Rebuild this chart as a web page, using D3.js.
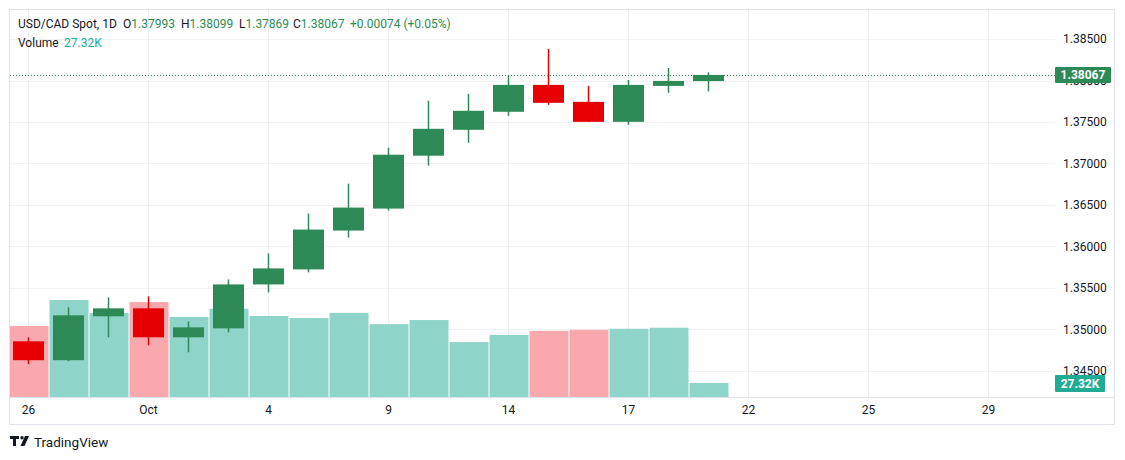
<!DOCTYPE html>
<html>
<head>
<meta charset="utf-8">
<script src="https://cdn.jsdelivr.net/npm/d3@7"></script>
<style>
  body { margin: 0; background: #fff; }
  svg text { font-family: Roboto, "Noto Sans", sans-serif; }
</style>
</head>
<body>
<div id="main"></div>
<script>
// daily bars, oldest first
const opens  = [1.34858, 1.34630, 1.35159, 1.35255, 1.34906, 1.35014, 1.35543, 1.35724, 1.36192, 1.36457, 1.37094, 1.37406, 1.37623, 1.37947, 1.37743, 1.37502, 1.37935, 1.37993];
const highs  = [1.34906, 1.35267, 1.35387, 1.35399, 1.35098, 1.35603, 1.35916, 1.36397, 1.36757, 1.37190, 1.37755, 1.37839, 1.38067, 1.38380, 1.37935, 1.38007, 1.38151, 1.38099];
const lows   = [1.34582, 1.34620, 1.34906, 1.34810, 1.34726, 1.34966, 1.35447, 1.35688, 1.36108, 1.36433, 1.36974, 1.37250, 1.37575, 1.37707, 1.37500, 1.37466, 1.37851, 1.37869];
const closes = [1.34630, 1.35171, 1.35255, 1.34906, 1.35026, 1.35543, 1.35736, 1.36204, 1.36469, 1.37106, 1.37418, 1.37635, 1.37947, 1.37731, 1.37502, 1.37947, 1.37995, 1.38067];
const volumes = [138.5, 189, 164, 185, 156, 172, 158, 154, 164, 142, 150, 107, 121, 129, 131, 133, 135, 27.32]; // thousands

const timeTickIdx = [0, 3, 6, 9, 12, 15, 18, 21, 24];
const timeTickLabels = ['26', 'Oct', '4', '9', '14', '17', '22', '25', '29'];
const priceTicks = [1.345, 1.350, 1.355, 1.360, 1.365, 1.370, 1.375, 1.380, 1.385];

const W = 1125, H = 460;
const plot = { left: 10, right: 1055, top: 10, bottom: 397 };
const green = '#2d8a56', red = '#e60000';

const bars = opens.map((o, i) => ({ i, o, h: highs[i], l: lows[i], c: closes[i], v: volumes[i] }));
const last = bars[bars.length - 1];

const x = d3.scaleLinear().domain([0, 24]).range([28.5, 988.5]);
const y = d3.scaleLinear().domain([1.345, 1.385]).range([371, 39]);
const yv = d3.scaleLinear().domain([0, 200]).range([plot.bottom, plot.bottom - 102.6]);
const step = x(1) - x(0);

const svg = d3.select('#main').append('svg').attr('width', W).attr('height', H);

svg.append('defs').append('clipPath').attr('id', 'clip')
  .append('rect').attr('x', plot.left).attr('y', plot.top)
  .attr('width', plot.right - plot.left).attr('height', plot.bottom - plot.top);

// frame
svg.append('rect').attr('x', 9.5).attr('y', 9.5).attr('width', 1105).attr('height', 415)
  .attr('fill', 'none').attr('stroke', '#e0e3eb');

// grid
const grid = svg.append('g').attr('clip-path', 'url(#clip)');
grid.selectAll('line.h').data(priceTicks).enter().append('line')
  .attr('x1', plot.left).attr('x2', plot.right)
  .attr('y1', d => Math.round(y(d)) + 0.5).attr('y2', d => Math.round(y(d)) + 0.5)
  .attr('stroke', '#f0f2f5');
grid.selectAll('line.v').data(timeTickIdx).enter().append('line')
  .attr('y1', plot.top).attr('y2', plot.bottom)
  .attr('x1', d => Math.floor(x(d)) + 0.5).attr('x2', d => Math.floor(x(d)) + 0.5)
  .attr('stroke', '#eceef2');

const chart = svg.append('g').attr('clip-path', 'url(#clip)');

// volume
chart.selectAll('rect.vol').data(bars).enter().append('rect')
  .attr('x', d => x(d.i) - step / 2 + 1)
  .attr('width', step - 1)
  .attr('y', d => yv(d.v))
  .attr('height', d => yv(0) - yv(d.v))
  .attr('fill', d => d.c < d.o ? '#f9a9ad' : '#8fd4c9');

// wicks
chart.selectAll('line.wick').data(bars).enter().append('line')
  .attr('x1', d => x(d.i)).attr('x2', d => x(d.i))
  .attr('y1', d => y(d.h)).attr('y2', d => y(d.l))
  .attr('stroke', d => d.c < d.o ? red : green)
  .attr('stroke-width', 1.5);

// bodies
chart.selectAll('rect.body').data(bars).enter().append('rect')
  .attr('x', d => x(d.i) - 15.5)
  .attr('width', 31)
  .attr('y', d => y(Math.max(d.o, d.c)))
  .attr('height', d => Math.max(1, Math.abs(y(d.o) - y(d.c))))
  .attr('fill', d => d.c < d.o ? red : green);

// last price line
svg.append('line')
  .attr('x1', plot.left).attr('x2', plot.right)
  .attr('y1', Math.round(y(last.c)) + 0.5).attr('y2', Math.round(y(last.c)) + 0.5)
  .attr('stroke', green).attr('stroke-dasharray', '1,2');

// time axis
svg.append('line').attr('x1', plot.left).attr('x2', 1115)
  .attr('y1', plot.bottom + 0.5).attr('y2', plot.bottom + 0.5).attr('stroke', '#e0e3eb');
svg.append('g').selectAll('text').data(timeTickIdx).enter().append('text')
  .attr('x', d => x(d)).attr('y', 414)
  .attr('text-anchor', 'middle')
  .attr('font-size', 12).attr('fill', '#131722')
  .text((d, i) => timeTickLabels[i]);

// price axis
svg.append('g').selectAll('text').data(priceTicks).enter().append('text')
  .attr('x', 1063).attr('y', d => y(d) + 4)
  .attr('font-size', 12).attr('fill', '#131722')
  .text(d => d.toFixed(5));

// last price badge
svg.append('rect').attr('x', 1055).attr('y', y(last.c) - 8).attr('width', 56).attr('height', 16)
  .attr('rx', 1).attr('fill', green);
svg.append('text').attr('x', 1083).attr('y', y(last.c) + 4.5).attr('text-anchor', 'middle')
  .attr('font-size', 12).attr('font-weight', 'bold').attr('fill', '#fff')
  .text(last.c.toFixed(5));

// volume badge
svg.append('rect').attr('x', 1055).attr('y', yv(last.v) - 8).attr('width', 50).attr('height', 17)
  .attr('rx', 1).attr('fill', '#22ab94');
svg.append('text').attr('x', 1080).attr('y', yv(last.v) + 5).attr('text-anchor', 'middle')
  .attr('font-size', 12).attr('font-weight', 'bold').attr('fill', '#fff')
  .text(last.v.toFixed(2) + 'K');

// legend
const chg = last.c - opens[opens.length - 2] + (opens[opens.length - 2] - closes[closes.length - 2]);
const legend = svg.append('g').attr('font-size', 12);
legend.append('text').attr('x', 18).attr('y', 28).attr('fill', '#131722').text('USD/CAD Spot, 1D');
[['O', last.o, 123], ['H', last.h, 181], ['L', last.l, 239], ['C', last.c, 293]].forEach(([k, v, px]) => {
  const t = legend.append('text').attr('x', px).attr('y', 28);
  t.append('tspan').attr('fill', '#131722').text(k);
  t.append('tspan').attr('fill', green).text(v.toFixed(5));
});
const diff = last.c - last.o;
legend.append('text').attr('x', 350).attr('y', 28).attr('fill', green)
  .text('+' + diff.toFixed(5) + ' (+' + (diff / last.o * 100).toFixed(2) + '%)');
legend.append('text').attr('x', 18).attr('y', 47).attr('fill', '#131722').text('Volume');
legend.append('text').attr('x', 64).attr('y', 47).attr('fill', '#22ab94').text(last.v.toFixed(2) + 'K');

// logo
const logo = svg.append('g').attr('transform', 'translate(10,436)');
logo.append('path').attr('d', 'M0,0h9v3h-3v7h-3v-7h-3z').attr('fill', '#131722');
logo.append('circle').attr('cx', 12).attr('cy', 1.7).attr('r', 1.7).attr('fill', '#131722');
logo.append('path').attr('d', 'M15,0h4l-4.5,10h-4z').attr('fill', '#131722');
svg.append('text').attr('x', 34).attr('y', 447).attr('font-size', 13.5).attr('fill', '#131722')
  .text('TradingView');
</script>
</body>
</html>
